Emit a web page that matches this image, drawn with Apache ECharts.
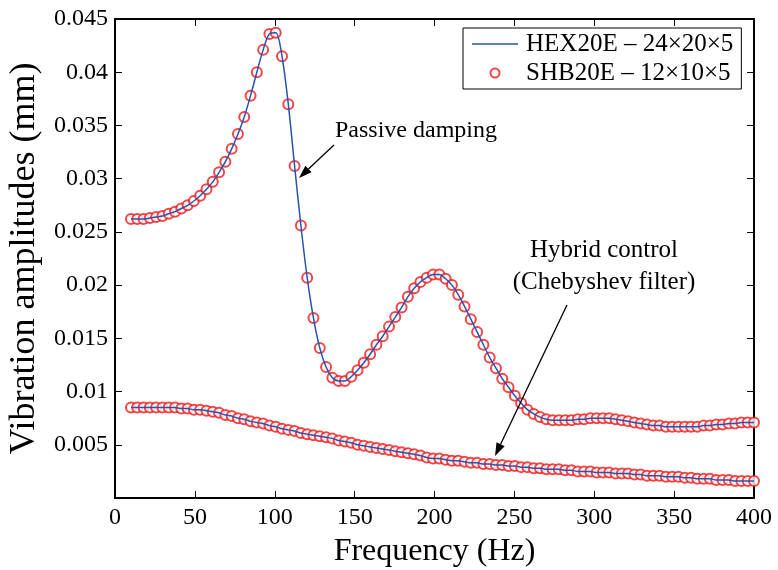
<!DOCTYPE html>
<html>
<head>
<meta charset="utf-8">
<title>Vibration amplitudes</title>
<script src="https://cdn.jsdelivr.net/npm/echarts@6/dist/echarts.min.js"></script>
<style>
  html, body { margin: 0; padding: 0; background: #fff; }
  #container { width: 778px; height: 570px; }
</style>
</head>
<body>
<div id="container"></div>
<script type="text/javascript">
    // frequency grid (Hz), 100 points from 10 to 400
    var freq = [10, 13.94, 17.88, 21.82, 25.76, 29.70, 33.64, 37.58, 41.52, 45.45,
        49.39, 53.33, 57.27, 61.21, 65.15, 69.09, 73.03, 76.97, 80.91, 84.85,
        88.79, 92.73, 96.67, 100.61, 104.55, 108.48, 112.42, 116.36, 120.30, 124.24,
        128.18, 132.12, 136.06, 140.00, 143.94, 147.88, 151.82, 155.76, 159.70, 163.64,
        167.58, 171.52, 175.45, 179.39, 183.33, 187.27, 191.21, 195.15, 199.09, 203.03,
        206.97, 210.91, 214.85, 218.79, 222.73, 226.67, 230.61, 234.55, 238.48, 242.42,
        246.36, 250.30, 254.24, 258.18, 262.12, 266.06, 270.00, 273.94, 277.88, 281.82,
        285.76, 289.70, 293.64, 297.58, 301.52, 305.45, 309.39, 313.33, 317.27, 321.21,
        325.15, 329.09, 333.03, 336.97, 340.91, 344.85, 348.79, 352.73, 356.67, 360.61,
        364.55, 368.49, 372.42, 376.36, 380.30, 384.24, 388.18, 392.12, 396.06, 400];

    // passive damping (mm)
    var passive = [0.0262, 0.0262, 0.0262, 0.0263, 0.0264, 0.0265, 0.0267, 0.0269, 0.0272, 0.0275,
        0.0279, 0.0284, 0.0290, 0.0297, 0.0306, 0.0316, 0.0328, 0.0342, 0.0358, 0.0378,
        0.0400, 0.0421, 0.0436, 0.0437, 0.0415, 0.0370, 0.0312, 0.0256, 0.0207, 0.0169,
        0.0141, 0.0123, 0.0113, 0.0110, 0.0110, 0.0114, 0.0120, 0.0127, 0.0135, 0.0144,
        0.0152, 0.0161, 0.0170, 0.0179, 0.0189, 0.0197, 0.0203, 0.0207, 0.0210, 0.0210,
        0.0206, 0.0200, 0.0191, 0.0180, 0.0168, 0.0156, 0.0144, 0.0132, 0.0122, 0.0112,
        0.0104, 0.0096, 0.0089, 0.0083, 0.0079, 0.0076, 0.0074, 0.0073, 0.0073, 0.0073,
        0.0073, 0.0074, 0.0074, 0.0075, 0.0075, 0.0075, 0.0075, 0.0074, 0.0073, 0.0072,
        0.0071, 0.0070, 0.0069, 0.0068, 0.0068, 0.0067, 0.0067, 0.0067, 0.0067, 0.0067,
        0.0067, 0.0068, 0.0068, 0.0069, 0.0069, 0.0070, 0.0070, 0.0071, 0.0071, 0.0071];

    // hybrid control, Chebyshev filter (mm)
    var hybrid = [0.0085, 0.0085, 0.0085, 0.0085, 0.0085, 0.0085, 0.0085, 0.0085, 0.0084, 0.0084,
        0.0083, 0.0083, 0.0082, 0.0081, 0.0080, 0.0078, 0.0077, 0.0075, 0.0074, 0.0072,
        0.0071, 0.0070, 0.0068, 0.0067, 0.0065, 0.0064, 0.0063, 0.0061, 0.0060, 0.0059,
        0.0058, 0.0057, 0.0056, 0.0054, 0.0053, 0.0052, 0.0050, 0.0049, 0.0048, 0.0047,
        0.0046, 0.0045, 0.0044, 0.0043, 0.0042, 0.0041, 0.0040, 0.0038, 0.0037, 0.0037,
        0.0036, 0.0035, 0.0035, 0.0034, 0.0033, 0.0033, 0.0032, 0.0032, 0.0031, 0.0031,
        0.0030, 0.0030, 0.0029, 0.0029, 0.0028, 0.0028, 0.0027, 0.0027, 0.0027, 0.0026,
        0.0026, 0.0025, 0.0025, 0.0025, 0.0024, 0.0024, 0.0024, 0.0023, 0.0023, 0.0023,
        0.0022, 0.0022, 0.0021, 0.0021, 0.0021, 0.0020, 0.0020, 0.0020, 0.0019, 0.0019,
        0.0018, 0.0018, 0.0018, 0.0017, 0.0017, 0.0017, 0.0016, 0.0016, 0.0016, 0.0016];

    var lineName = 'HEX20E – 24×20×5';
    var dotName = 'SHB20E – 12×10×5';

    function pairs(ys) {
        var out = [];
        for (var i = 0; i < freq.length; i++) out.push([freq[i], ys[i]]);
        return out;
    }

    var dom = document.getElementById("container");
    var myChart = echarts.init(dom, null, {renderer: 'canvas'});
    var font = 'Liberation Serif';
    var blue = '#2a52b0';
    var red = '#f01818';

    function axisCommon(show) {
        return {
            axisLine: {show: true, onZero: false, lineStyle: {color: '#000', width: 2}},
            axisTick: {show: true, inside: true, length: 7, lineStyle: {color: '#000', width: 1}},
            splitLine: {show: false},
            axisLabel: {show: show}
        };
    }

    var xBottom = axisCommon(true);
    xBottom.type = 'value'; xBottom.min = 0; xBottom.max = 400; xBottom.interval = 50;
    xBottom.position = 'bottom';
    xBottom.name = 'Frequency (Hz)';
    xBottom.nameLocation = 'middle';
    xBottom.nameGap = 38;
    xBottom.nameTextStyle = {fontFamily: font, fontSize: 32, color: '#000'};
    xBottom.axisLabel = {fontFamily: font, fontSize: 24, color: '#000', margin: 8};

    var xTop = axisCommon(false);
    xTop.type = 'value'; xTop.min = 0; xTop.max = 400; xTop.interval = 50;
    xTop.position = 'top';

    var yLeft = axisCommon(true);
    yLeft.type = 'value'; yLeft.min = 0; yLeft.max = 0.045; yLeft.interval = 0.005;
    yLeft.position = 'left';
    yLeft.name = 'Vibration amplitudes (mm)';
    yLeft.nameLocation = 'middle';
    yLeft.nameGap = 72;
    yLeft.nameTextStyle = {fontFamily: font, fontSize: 36, color: '#000'};
    yLeft.axisLabel = {
        fontFamily: font, fontSize: 24, color: '#000', margin: 7,
        formatter: function (v) { return v === 0 ? '' : String(+v.toFixed(3)); }
    };

    var yRight = axisCommon(false);
    yRight.type = 'value'; yRight.min = 0; yRight.max = 0.045; yRight.interval = 0.005;
    yRight.position = 'right';

    function arrow(x1, y1, x2, y2) {
        var dx = x2 - x1, dy = y2 - y1, len = Math.sqrt(dx * dx + dy * dy);
        var ux = dx / len, uy = dy / len, hl = 13, hw = 4.5;
        var bx = x2 - hl * ux, by = y2 - hl * uy;
        return [
            {type: 'line', shape: {x1: x1, y1: y1, x2: bx, y2: by}, style: {stroke: '#000', lineWidth: 1.3}, z: 10},
            {type: 'polygon', shape: {points: [[x2, y2], [bx - hw * uy, by + hw * ux], [bx + hw * uy, by - hw * ux]]},
                style: {fill: '#000'}, z: 10}
        ];
    }

    var option = {
        animation: false,
        backgroundColor: '#fff',
        grid: {left: 115, right: 24, top: 19, bottom: 72, containLabel: false, outerBoundsMode: 'none'},
        xAxis: [xBottom, xTop],
        yAxis: [yLeft, yRight],
        legend: {
            data: [
                {name: lineName, icon: 'path://M0,0L100,0L100,3L0,3Z'},
                {name: dotName, icon: 'emptyCircle'}
            ],
            orient: 'vertical',
            left: 463, top: 28,
            backgroundColor: '#fff',
            borderColor: '#000', borderWidth: 1,
            padding: [3, 8, 3, 9],
            itemWidth: 46, itemHeight: 9, itemGap: 3,
            textStyle: {fontFamily: font, fontSize: 25, color: '#000', lineHeight: 26, padding: [0, 0, 0, 3]}
        },
        series: [
            {name: dotName, type: 'scatter', data: pairs(passive), symbol: 'emptyCircle', symbolSize: 10,
                itemStyle: {color: red, borderColor: red, borderWidth: 1.5}, z: 2},
            {name: dotName, type: 'scatter', data: pairs(hybrid), symbol: 'emptyCircle', symbolSize: 10,
                itemStyle: {color: red, borderColor: red, borderWidth: 1.5}, z: 2},
            {name: lineName, type: 'line', data: pairs(passive), smooth: 0.3, symbol: 'none', showSymbol: false,
                lineStyle: {color: blue, width: 1.5}, itemStyle: {color: blue}, z: 3},
            {name: lineName, type: 'line', data: pairs(hybrid), smooth: 0.3, symbol: 'none', showSymbol: false,
                lineStyle: {color: blue, width: 1.5}, itemStyle: {color: blue}, z: 3}
        ],
        graphic: [].concat(
            arrow(334, 145, 299, 178),
            arrow(567, 305, 495, 456),
            [
                {type: 'text', left: 335, top: 119, z: 10,
                    style: {text: 'Passive damping', fontFamily: font, fontSize: 24, fill: '#000'}},
                {type: 'text', x: 604, y: 250, z: 10,
                    style: {text: 'Hybrid control', fontFamily: font, fontSize: 25, fill: '#000', align: 'center', verticalAlign: 'middle'}},
                {type: 'text', x: 604, y: 282, z: 10,
                    style: {text: '(Chebyshev filter)', fontFamily: font, fontSize: 25, fill: '#000', align: 'center', verticalAlign: 'middle'}}
            ]
        )
    };

    if (option && typeof option === 'object') {
        myChart.setOption(option);
    }
</script>
</body>
</html>
